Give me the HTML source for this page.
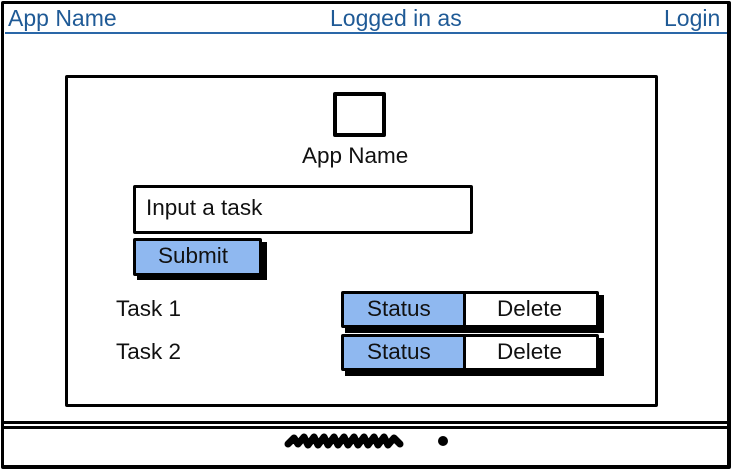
<!DOCTYPE html>
<html><head><style>
*{margin:0;padding:0;box-sizing:border-box}
body{width:732px;height:470px;background:#fff;position:relative;overflow:hidden;font-family:"Liberation Sans",sans-serif;color:#111}
.a{position:absolute}
.h{color:#1f5a96;font-size:23px;top:5px}
.b{border:3px solid #000;border-radius:2px}
.t{font-size:22.5px}
</style></head><body>
<div class="a b" style="left:1px;top:1px;width:730px;height:468px;border-width:3px 4px 4px 3px"></div>
<div class="a" style="left:5px;top:32px;width:722px;height:2px;background:#2a67a8"></div>
<div class="a h" style="left:8px">App Name</div>
<div class="a h" style="left:330px">Logged in as</div>
<div class="a h" style="left:664px">Login</div>
<div class="a" style="left:3px;top:421px;width:726px;height:3px;background:#000"></div>
<div class="a" style="left:3px;top:426px;width:726px;height:3px;background:#000"></div>
<svg class="a" style="left:280px;top:428px" width="180" height="26"><path d="M8 16 L14 10 L18 16 L24 9 L28 17 L34 9 L38 17 L44 9 L48 17 L54 9 L58 17 L64 9 L68 17 L74 9 L78 17 L84 9 L88 17 L94 9 L98 17 L104 9 L108 17 L114 10 L120 16" stroke="#000" stroke-width="7" fill="none" stroke-linecap="round" stroke-linejoin="round"/><ellipse cx="163" cy="13" rx="5" ry="5" fill="#000"/></svg>
<div class="a b" style="left:65px;top:75px;width:593px;height:332px"></div>
<div class="a b" style="left:333px;top:92px;width:53px;height:45px;border-width:4px"></div>
<div class="a t" style="left:302px;top:143px">App Name</div>
<div class="a b" style="left:133px;top:185px;width:340px;height:49px"></div>
<div class="a t" style="left:146px;top:195px">Input a task</div>
<div class="a" style="left:137px;top:242px;width:130px;height:38px;background:#000"></div>
<div class="a b" style="left:133px;top:238px;width:129px;height:38px;background:#8fb8f0"></div>
<div class="a t" style="left:158px;top:243px">Submit</div>
<div class="a t" style="left:116px;top:296px">Task 1</div>
<div class="a t" style="left:116px;top:339px">Task 2</div>
<div class="a" style="left:345px;top:295px;width:259px;height:38px;background:#000"></div>
<div class="a b" style="left:341px;top:291px;width:258px;height:37px;background:#fff"></div>
<div class="a" style="left:344px;top:294px;width:122px;height:31px;background:#8fb8f0;border-right:3px solid #000"></div>
<div class="a t" style="left:367px;top:296px">Status</div>
<div class="a t" style="left:497px;top:296px">Delete</div>
<div class="a" style="left:345px;top:338px;width:259px;height:38px;background:#000"></div>
<div class="a b" style="left:341px;top:334px;width:258px;height:37px;background:#fff"></div>
<div class="a" style="left:344px;top:337px;width:122px;height:31px;background:#8fb8f0;border-right:3px solid #000"></div>
<div class="a t" style="left:367px;top:339px">Status</div>
<div class="a t" style="left:497px;top:339px">Delete</div>
</body></html>
